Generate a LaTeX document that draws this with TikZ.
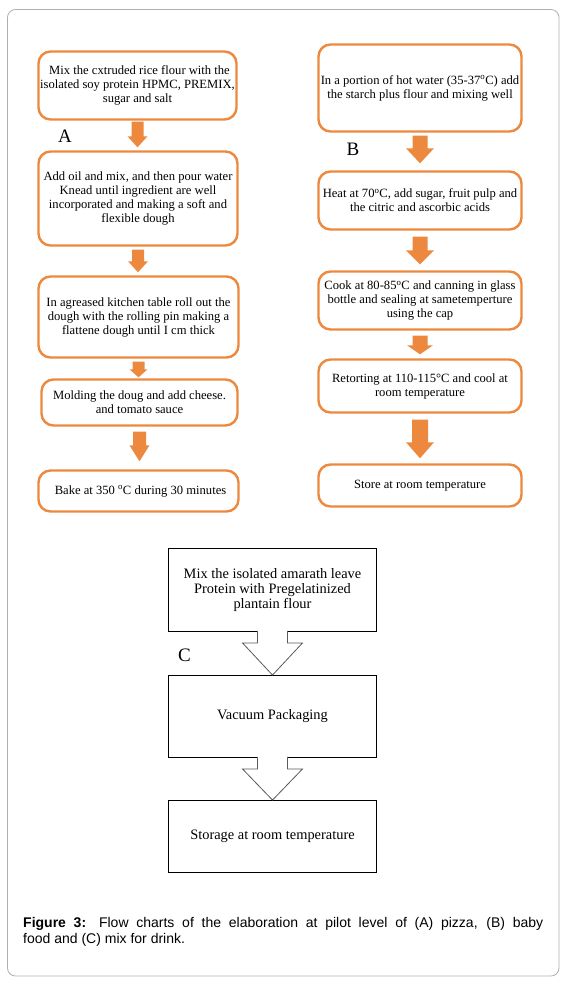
\documentclass[tikz,border=0pt]{standalone}
\usepackage{fontspec}
\setmainfont{Liberation Serif}
\newfontfamily\capfont{Liberation Sans}
\usepackage{xcolor}
\usetikzlibrary{positioning, calc}

\definecolor{boxorange}{RGB}{237,137,62}
\definecolor{framegray}{RGB}{175,175,175}
\definecolor{hollowgray}{RGB}{90,90,90}

\begin{document}
\begin{tikzpicture}[
  x=1pt, y=-1pt,
  stepA/.style={draw=boxorange, line width=2.4pt, rounded corners=12pt, fill=white,
    align=center, inner sep=1pt, font=\fontsize{12.6}{14}\selectfont},
  stepC/.style={draw=black, line width=0.9pt, fill=white,
    align=center, inner sep=2pt, font=\fontsize{14.4}{14.6}\selectfont},
  panel/.style={font=\fontsize{19}{22}\selectfont},
  hollow/.style={draw=hollowgray, line width=0.8pt, fill=white}
]
\useasboundingbox (0,0) rectangle (569,986);
% outer frame
\draw[framegray, line width=0.8pt, rounded corners=8pt] (7.5,9.5) rectangle (559,976);

% Chart A -- pizza
\node[stepA, minimum width=198pt, minimum height=68pt] (a1) at (137.5,85.5)
  {\hspace{4pt}Mix the cxtruded rice flour with the\\isolated soy protein HPMC, PREMIX,\\sugar and salt};
\node[stepA, minimum width=199pt, minimum height=94pt] (a2) at (138,198.5)
  {Add oil and mix, and then pour water\\Knead until ingredient are well\\incorporated and making a soft and\\flexible dough};
\node[stepA, minimum width=200pt, minimum height=81pt] (a3) at (138.5,317)
  {In agreased kitchen table roll out the\\dough with the rolling pin making a\\flattene dough until I cm thick};
\node[stepA, minimum width=196pt, minimum height=46pt] (a4) at (139.5,402.5)
  {Molding the doug and add cheese.\\and tomato sauce};
\node[stepA, minimum width=200pt, minimum height=41pt] (a5) at (138.5,491)
  {\hspace{4pt}Bake at 350 \textsuperscript{o}C during 30 minutes};
\node[panel] (labA) at (65,136.5) {A};

% Chart B -- baby food
\node[stepA, minimum width=203pt, minimum height=87pt] (b1) at (420,88)
  {In a portion of hot water (35-37\textsuperscript{o}C) add\\the starch plus flour and mixing well};
\node[stepA, minimum width=203pt, minimum height=58pt] (b2) at (420,200.5)
  {Heat at 70\textsuperscript{o}C, add sugar, fruit pulp and\\the citric and ascorbic acids};
\node[stepA, minimum width=203pt, minimum height=58pt] (b3) at (420,300.5)
  {Cook at 80-85\textsuperscript{o}C and canning in glass\\bottle and sealing at sametemperture\\using the cap};
\node[stepA, minimum width=203pt, minimum height=53pt] (b4) at (420,386)
  {Retorting at 110-115°C and cool at\\room temperature};
\node[stepA, minimum width=203pt, minimum height=42pt] (b5) at (420,485.5)
  {Store at room temperature};
\node[panel] (labB) at (353,149) {B};

% Orange block arrows: from/to/top gap/bottom gap/shaft/head width/head length
\foreach \from/\to/\gt/\gb/\sw/\hw/\hl in {a1/a2/1/3/12/20/11, a2/a3/3/3/12/20/11,
    a3/a4/3/1/12/18/8, a4/a5/5/8/13/20/16, b1/b2/3/7/15/28/15, b2/b3/6/6/15/28/14,
    b3/b4/5/4/15/26/9, b4/b5/6/5/16/28/16} {
  \fill[boxorange]
    ($(\from.south)+(-\sw/2,\gt)$) -- ($(\from.south)+(\sw/2,\gt)$)
    -- ($(\from.south |- \to.north)+(\sw/2,-\gb-\hl)$) -- ($(\from.south |- \to.north)+(\hw/2,-\gb-\hl)$)
    -- ($(\from.south |- \to.north)+(0,-\gb)$)
    -- ($(\from.south |- \to.north)+(-\hw/2,-\gb-\hl)$) -- ($(\from.south |- \to.north)+(-\sw/2,-\gb-\hl)$)
    -- cycle;
}

% Chart C -- mix for drink
\node[stepC, minimum width=208pt, minimum height=83pt] (c1) at (272.5,590)
  {Mix the isolated amarath leave\\Protein with Pregelatinized\\plantain flour};
\node[stepC, minimum width=208pt, minimum height=82pt] (c2) at (272.5,716.5)
  {Vacuum Packaging};
\node[stepC, minimum width=208pt, minimum height=72pt] (c3) at (272.5,836.5)
  {\raisebox{-5pt}{Storage at room temperature}};
\node[panel] (labC) at (184.5,655) {C};

% Hollow arrows (open outline, white fill covers the box edge)
\foreach \from/\to in {c1/c2, c2/c3} {
  \path[hollow]
    ($(\from.south)+(-15,-1)$) -- ($(\from.south)+(-15,11)$) -- ($(\from.south)+(-30,11)$)
    -- (\to.north) -- ($(\from.south)+(30,11)$) -- ($(\from.south)+(15,11)$)
    -- ($(\from.south)+(15,-1)$);
}

% caption
\node[anchor=north west, text width=520pt, align=justify, inner sep=0pt,
      font=\capfont\fontsize{14}{16}\selectfont] (caption) at (23,917)
  {\textbf{Figure 3:} Flow charts of the elaboration at pilot level of (A) pizza, (B) baby\linebreak
   food and (C) mix for drink.};
\end{tikzpicture}
\end{document}
